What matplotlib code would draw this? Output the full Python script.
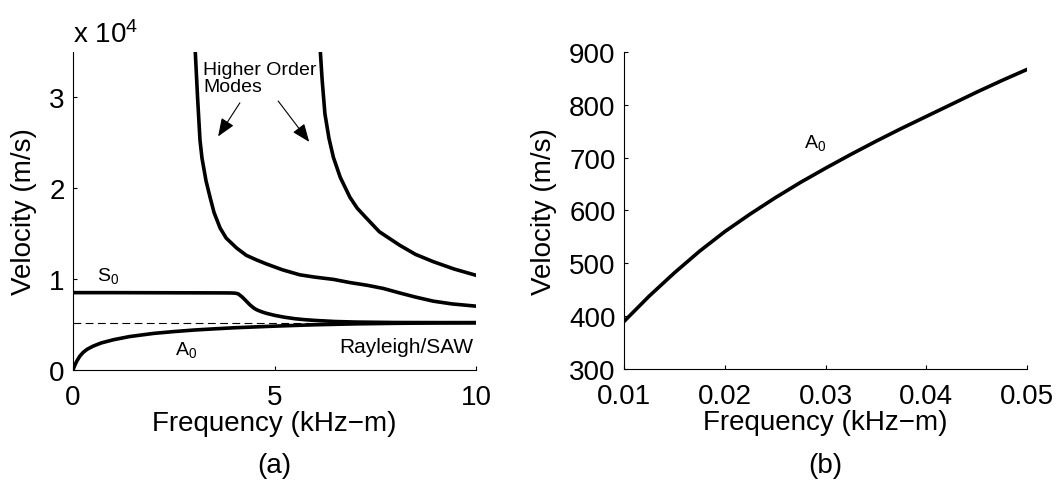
import numpy as np
import matplotlib
matplotlib.use("Agg")
import matplotlib.pyplot as plt

plt.rcParams['font.family'] = ['Liberation Sans', 'DejaVu Sans']
plt.rcParams['mathtext.fontset'] = 'custom'
plt.rcParams['mathtext.rm'] = 'Liberation Sans'
plt.rcParams['mathtext.it'] = 'Liberation Sans'

# --- panel (a): dispersion curves, velocity in m/s ---
a0_freq = [0, 0.05, 0.1, 0.17, 0.25, 0.35, 0.5, 0.7, 1.0, 1.4, 2.0, 2.5, 3.0, 3.5, 4.0, 5.0, 6.0, 7.0, 8.0, 9.0, 10.0]
a0_vel = [0, 550, 1000, 1500, 1900, 2250, 2600, 2950, 3300, 3650, 4000, 4200, 4370, 4500, 4620, 4800, 4950, 5050, 5110, 5150, 5170]

s0_freq = [0, 1, 2, 3, 3.8, 3.9, 4.0, 4.05, 4.1, 4.2, 4.3, 4.4, 4.5, 4.55, 4.6, 4.7, 4.8, 5.0,
           5.25, 5.5, 5.75, 6.0, 6.5, 7.0, 8.0, 9.0, 10.0]
s0_vel = [8490, 8490, 8480, 8470, 8460, 8455, 8440, 8410, 8350, 8000, 7550, 7100, 6750, 6620, 6520, 6350, 6210, 5990,
          5780, 5620, 5510, 5430, 5310, 5250, 5200, 5190, 5190]

ho1_freq = [3.03, 3.09, 3.15, 3.2, 3.3, 3.4, 3.5, 3.65, 3.8, 4.06, 4.3, 4.55, 4.8, 5.2, 5.63, 6.0, 6.46,
            6.87, 7.3, 7.7, 8.11, 8.5, 8.94, 9.4, 10.0]
ho1_vel = [35300, 30000, 25300, 23300, 20800, 19000, 17300, 15600, 14500, 13400, 12600, 12100, 11650, 11000, 10450, 10200, 9950,
           9600, 9300, 8950, 8450, 8000, 7550, 7250, 7000]

ho2_freq = [6.13, 6.18, 6.25, 6.35, 6.46, 6.63, 6.87, 7.05, 7.28, 7.6, 8.11, 8.5, 8.94, 9.45, 10.0]
ho2_vel = [35500, 32000, 28200, 25500, 23400, 21200, 19000, 17800, 16700, 15200, 13700, 12700, 11900, 11100, 10400]

rayleigh_vel = 5190

# --- panel (b): A0 at low frequency ---
b_freq = [0.01, 0.0125, 0.015, 0.0175, 0.02, 0.0225, 0.025, 0.0275, 0.03, 0.0325, 0.035, 0.0375,
          0.04, 0.0425, 0.045, 0.0475, 0.05]
b_vel = [390, 438, 482, 523, 560, 593, 624, 653, 680, 706, 731, 755,
         778, 801, 824, 846, 867]

FS = 20
LW = 2.6


def style_axes(ax):
  for side in ['top', 'right']:
    ax.spines[side].set_visible(False)
  for side in ['left', 'bottom']:
    ax.spines[side].set_linewidth(0.8)
  ax.tick_params(direction='in', length=3, width=0.8, labelsize=FS)
  ax.tick_params(axis='x', pad=10)
  ax.tick_params(axis='y', pad=6)


fig = plt.figure(figsize=(10.6, 4.81), dpi=100)

ax1 = fig.add_axes([0.0689, 0.2293, 0.3802, 0.6605])
ax1.plot([0, 10], [rayleigh_vel, rayleigh_vel], color='black', lw=0.8, ls=(0, (7, 4)))
ax1.plot(a0_freq, a0_vel, color='black', lw=LW)
ax1.plot(s0_freq, s0_vel, color='black', lw=LW)
ax1.plot(ho1_freq, ho1_vel, color='black', lw=LW)
ax1.plot(ho2_freq, ho2_vel, color='black', lw=LW)
ax1.set_xlim(0, 10)
ax1.set_ylim(0, 35000)
ax1.set_xticks([0, 5, 10])
ax1.set_yticks([0, 10000, 20000, 30000])
ax1.set_yticklabels(['0', '1', '2', '3'])
style_axes(ax1)
ax1.set_xlabel('Frequency (kHz\u2212m)', fontsize=FS, labelpad=0)
ax1.set_ylabel('Velocity (m/s)', fontsize=FS, labelpad=9)
ax1.text(0, 1.0315, 'x 10$^4$', transform=ax1.transAxes, fontsize=FS, ha='left', va='baseline')

arrow = dict(arrowstyle='-|>,head_length=0.55,head_width=0.22', color='black', lw=0.8,
             mutation_scale=20, shrinkA=0, shrinkB=0)
ax1.text(3.23, 34000, 'Higher Order\nModes', fontsize=14, ha='left', va='top', linespacing=1.0)
ax1.annotate('', xy=(3.60, 25700), xytext=(4.14, 29400), arrowprops=arrow)
ax1.annotate('', xy=(5.86, 25100), xytext=(5.09, 29600), arrowprops=arrow)
ax1.text(0.6, 9850, 'S$_0$', fontsize=14, ha='left', va='baseline')
ax1.text(2.53, 1750, 'A$_0$', fontsize=14, ha='left', va='baseline')
ax1.text(9.93, 2000, 'Rayleigh/SAW', fontsize=15, ha='right', va='baseline')

ax2 = fig.add_axes([0.5887, 0.2308, 0.3802, 0.659])
ax2.plot(b_freq, b_vel, color='black', lw=LW)
ax2.set_xlim(0.01, 0.05)
ax2.set_ylim(300, 900)
ax2.set_xticks([0.01, 0.02, 0.03, 0.04, 0.05])
ax2.set_xticklabels(['0.01', '0.02', '0.03', '0.04', '0.05'])
ax2.set_yticks([300, 400, 500, 600, 700, 800, 900])
style_axes(ax2)
ax2.set_xlabel('Frequency (kHz\u2212m)', fontsize=FS, labelpad=0)
ax2.set_ylabel('Velocity (m/s)', fontsize=FS, labelpad=9)
ax2.text(0.0279, 720, 'A$_0$', fontsize=14, ha='left', va='baseline')

fig.text(0.2590, 0.032, '(a)', fontsize=FS, ha='center', va='center')
fig.text(0.7788, 0.032, '(b)', fontsize=FS, ha='center', va='center')

fig.savefig('out.png', dpi=100)
